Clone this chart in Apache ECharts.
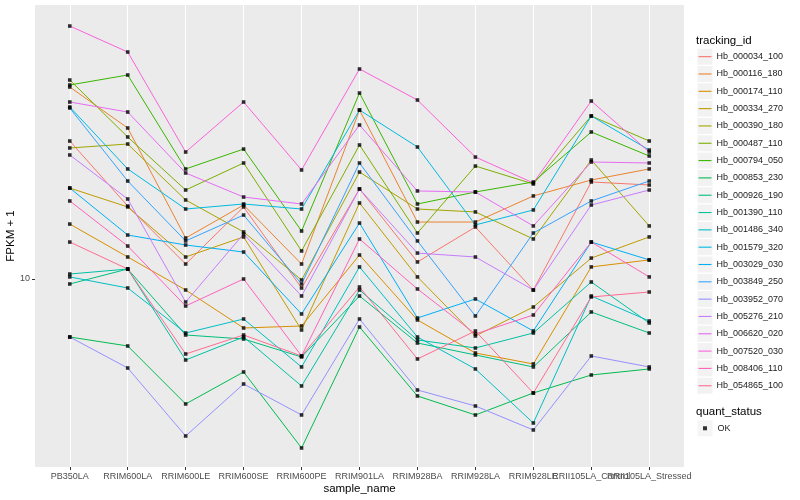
<!DOCTYPE html>
<html><head><meta charset="utf-8">
<script src="https://cdn.jsdelivr.net/npm/echarts@6/dist/echarts.min.js"></script>
<style>html,body{margin:0;padding:0;background:#fff}#c{width:800px;height:500px}</style>
</head><body><div id="c"></div>
<script>
const categories = ['PB350LA','RRIM600LA','RRIM600LE','RRIM600SE','RRIM600PE','RRIM901LA','RRIM928BA','RRIM928LA','RRIM928LE','RRII105LA_Control','RRII105LA_Stressed'];
const trackingIds = ['Hb_000034_100','Hb_000116_180','Hb_000174_110','Hb_000334_270','Hb_000390_180','Hb_000487_110','Hb_000794_050','Hb_000853_230','Hb_000926_190','Hb_001390_110','Hb_001486_340','Hb_001579_320','Hb_003029_030','Hb_003849_250','Hb_003952_070','Hb_005276_210','Hb_006620_020','Hb_007520_030','Hb_008406_110','Hb_054865_100'];
const colors = ['#F8766D','#EA8331','#D89000','#C09B00','#A3A500','#7CAE00','#39B600','#00BB4E','#00BF7D','#00C1A3','#00BFC4','#00BAE0','#00B0F6','#35A2FF','#9590FF','#C77CFF','#E76BF3','#FA62DB','#FF62BC','#FF6C91'];
const yTicks = [10];
const yTickLabels = ['10'];

// FPKM + 1 per sample, in category order
const Hb_000034_100 = [22.13, 15.22, 10.90, 15.14, 9.495, 16.79, 11.03, 13.49, 9.386, 17.48, 17.18];
const Hb_000116_180 = [30.20, 23.85, 12.66, 15.31, 10.90, 26.45, 13.88, 13.88, 16.13, 17.68, 18.84];
const Hb_000174_110 = [13.72, 11.35, 9.386, 7.542, 7.630, 11.48, 7.898, 6.531, 6.131, 10.72, 11.16];
const Hb_000334_270 = [16.88, 15.14, 11.35, 12.74, 7.456, 15.49, 10.12, 7.203, 8.511, 11.28, 12.74];
const Hb_000390_180 = [21.26, 21.75, 15.76, 13.11, 9.943, 18.51, 14.96, 14.71, 12.59, 19.84, 13.57];
const Hb_000487_110 = [31.44, 22.65, 16.69, 19.50, 11.75, 21.63, 13.03, 19.16, 17.28, 25.56, 22.13];
const Hb_000794_050 = [30.55, 32.36, 18.84, 21.13, 13.18, 29.17, 15.40, 16.50, 17.48, 23.31, 20.30];
const Hb_000853_230 = [7.161, 6.800, 4.870, 5.855, 3.780, 7.586, 5.099, 4.571, 5.188, 5.754, 5.957];
const Hb_000926_190 = [9.716, 10.59, 7.244, 7.079, 6.383, 9.068, 6.918, 6.457, 6.026, 8.270, 7.328];
const Hb_001390_110 = [10.29, 10.59, 6.273, 7.161, 5.401, 9.386, 7.039, 6.722, 7.328, 9.829, 7.762];
const Hb_001486_340 = [10.12, 9.495, 7.328, 7.943, 6.026, 10.72, 7.161, 5.957, 4.365, 9.068, 7.852];
const Hb_001579_320 = [26.92, 18.84, 14.96, 15.40, 14.96, 26.45, 21.38, 13.65, 14.88, 25.56, 21.01];
const Hb_003029_030 = [16.88, 12.88, 12.16, 11.68, 8.175, 13.80, 7.989, 8.913, 7.413, 12.37, 11.16];
const Hb_003849_250 = [26.76, 17.58, 12.45, 14.45, 9.716, 19.50, 12.45, 8.082, 13.03, 15.67, 17.58];
const Hb_003952_070 = [7.161, 5.991, 4.050, 5.464, 4.571, 7.943, 5.278, 4.814, 4.193, 6.420, 6.026];
const Hb_005276_210 = [20.42, 15.85, 8.760, 12.96, 9.068, 16.79, 11.61, 11.35, 9.386, 15.31, 16.69];
const Hb_006620_020 = [27.70, 26.15, 18.41, 16.03, 15.40, 24.27, 16.60, 16.50, 13.57, 19.61, 19.50];
const Hb_007520_030 = [42.90, 36.94, 20.77, 27.70, 18.73, 33.50, 28.02, 20.18, 17.38, 27.86, 20.77];
const Hb_008406_110 = [15.67, 12.09, 8.560, 10.00, 6.420, 12.59, 9.441, 7.286, 8.128, 12.37, 10.12];
const Hb_054865_100 = [12.37, 10.59, 6.494, 7.244, 6.420, 9.550, 6.310, 7.413, 5.188, 9.016, 9.279];

const seriesValues = [Hb_000034_100, Hb_000116_180, Hb_000174_110, Hb_000334_270, Hb_000390_180, Hb_000487_110, Hb_000794_050, Hb_000853_230, Hb_000926_190, Hb_001390_110, Hb_001486_340, Hb_001579_320, Hb_003029_030, Hb_003849_250, Hb_003952_070, Hb_005276_210, Hb_006620_020, Hb_007520_030, Hb_008406_110, Hb_054865_100];

const FONT = '"Liberation Sans", Arial, Helvetica, sans-serif';
const catIdx = categories.map((c, i) => i);
// labels split over two overlaid axes so that overlapping labels are all drawn
const catIdxA = catIdx.filter(i => i % 2 === 0);
const catIdxB = catIdx.filter(i => i % 2 === 1);

const series = seriesValues.map((vals, k) => ({
  type: 'line', name: trackingIds[k], color: colors[k],
  data: vals.map((v, i) => [i, v]),
  showSymbol: false, symbol: 'none', silent: true, z: 2,
  lineStyle: { width: 1, color: colors[k] }
}));
const points = [];
seriesValues.forEach(vals => vals.forEach((v, i) => points.push([i, v])));
series.push({
  type: 'scatter', name: 'OK', data: points, symbol: 'rect', symbolSize: 3.6,
  itemStyle: { color: '#000' }, silent: true, z: 5
});

const labelStyle = { formatter: v => categories[Math.round(v)] || '', color: '#4D4D4D', fontSize: 9, margin: 5, fontFamily: FONT, hideOverlap: false, showMinLabel: true, showMaxLabel: true };

const chart = echarts.init(document.getElementById('c'), null, { renderer: 'canvas' });
chart.setOption({
  animation: false,
  backgroundColor: '#fff',
  textStyle: { fontFamily: FONT },
  title: [
    { text: 'tracking_id', left: 696, top: 34, padding: 0, textStyle: { fontFamily: FONT, fontSize: 11.5, fontWeight: 'normal', color: '#000', lineHeight: 14 } },
    { text: 'quant_status', left: 696, top: 405, padding: 0, textStyle: { fontFamily: FONT, fontSize: 11.5, fontWeight: 'normal', color: '#000', lineHeight: 14 } }
  ],
  grid: { left: 35, right: 116, top: 5, bottom: 33, show: true, backgroundColor: '#EBEBEB', borderWidth: 0, containLabel: false, outerBoundsMode: 'none' },
  xAxis: [{
    type: 'value', min: -0.6, max: 10.6, position: 'bottom',
    axisLine: { show: false, onZero: false },
    axisTick: { show: true, customValues: catIdx, length: 3, lineStyle: { color: '#333333', width: 1 } },
    axisLabel: Object.assign({ customValues: catIdxA }, labelStyle),
    splitLine: { show: true, lineStyle: { color: '#FFFFFF', width: 1.1 } },
    name: 'sample_name', nameLocation: 'middle', nameGap: 16, nameMoveOverlap: false,
    nameTextStyle: { fontFamily: FONT, fontSize: 11.5, color: '#000' }
  }, {
    type: 'value', min: -0.6, max: 10.6, position: 'bottom',
    axisLine: { show: false, onZero: false },
    axisTick: { show: false },
    axisLabel: Object.assign({ customValues: catIdxB }, labelStyle),
    splitLine: { show: false }
  }],
  yAxis: {
    type: 'log', logBase: 10, min: 3.388, max: 48.42, position: 'left',
    axisLine: { show: false, onZero: false },
    axisTick: { show: true, customValues: yTicks, length: 3, lineStyle: { color: '#333333', width: 1 } },
    axisLabel: { formatter: v => (yTickLabels.indexOf(String(Math.round(v * 1000) / 1000)) >= 0 ? String(Math.round(v * 1000) / 1000) : ''), color: '#4D4D4D', fontSize: 9, margin: 5, fontFamily: FONT },
    splitLine: { show: true, showMinLine: false, showMaxLine: false, lineStyle: { color: '#FFFFFF', width: 1.1 } },
    minorSplitLine: { show: false },
    name: 'FPKM + 1', nameLocation: 'middle', nameGap: 18, nameRotate: 90, nameMoveOverlap: false,
    nameTextStyle: { fontFamily: FONT, fontSize: 11.5, color: '#000' }
  },
  legend: [
    { orient: 'vertical', left: 697.5, top: 48, padding: 0, itemGap: 0, itemWidth: 15, itemHeight: 16, icon: 'rect', selectedMode: false, z: 2,
      data: trackingIds, itemStyle: { color: '#F2F2F2', borderWidth: 0 },
      textStyle: { color: 'rgba(0,0,0,0)', fontSize: 9, lineHeight: 17.32, fontFamily: FONT } },
    { orient: 'vertical', left: 698.5, top: 48, padding: 0, itemGap: 0, itemWidth: 13, itemHeight: 1.1, icon: 'rect', selectedMode: false, z: 3,
      data: trackingIds, itemStyle: { borderWidth: 0 },
      textStyle: { color: '#1A1A1A', fontSize: 9, lineHeight: 17.32, fontFamily: FONT } },
    { orient: 'vertical', left: 697.5, top: 419.6, padding: 0, itemGap: 0, itemWidth: 15, itemHeight: 16, icon: 'rect', selectedMode: false, z: 2,
      data: ['OK'], itemStyle: { color: '#F2F2F2', borderWidth: 0 },
      textStyle: { color: '#1A1A1A', fontSize: 9, lineHeight: 17.32, fontFamily: FONT } },
    { orient: 'vertical', left: 703, top: 419.6, padding: 0, itemGap: 0, itemWidth: 4, itemHeight: 4, icon: 'rect', selectedMode: false, z: 3,
      data: ['OK'], itemStyle: { color: '#000', borderWidth: 0 },
      textStyle: { color: 'rgba(0,0,0,0)', fontSize: 9, lineHeight: 17.32, fontFamily: FONT } }
  ],
  series: series
});
</script></body></html>
